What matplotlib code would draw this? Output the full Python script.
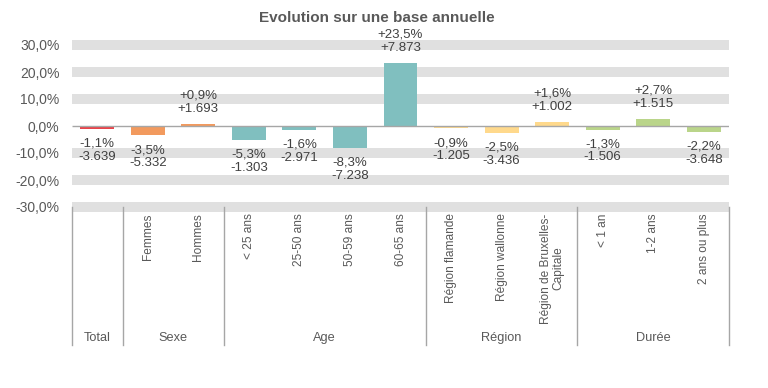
import numpy as np
import matplotlib.pyplot as plt

plt.rcParams['font.family'] = ['Liberation Sans', 'DejaVu Sans']

categories = ["", "Femmes", "Hommes", "< 25 ans", "25-50 ans", "50-59 ans", "60-65 ans",
              "Région flamande", "Région wallonne", "Région de Bruxelles-\nCapitale",
              "< 1 an", "1-2 ans", "2 ans ou plus"]
pct = [-1.1, -3.5, 0.9, -5.3, -1.6, -8.3, 23.5, -0.9, -2.5, 1.6, -1.3, 2.7, -2.2]
counts = [-3639, -5332, 1693, -1303, -2971, -7238, 7873, -1205, -3436, 1002, -1506, 1515, -3648]
groups = ["Total", "Sexe", "Age", "Région", "Durée"]
group_sizes = [1, 2, 4, 3, 3]
group_colors = ["#E8434A", "#F29A5E", "#80BFBF", "#FFD98C", "#BAD58A"]
yticks = [-30, -20, -10, 0, 10, 20, 30]

txt = "#595959"
sep = "#A6A6A6"

def fmt_pct(v):
    return f"{v:+.1f}%".replace(".", ",")

def fmt_num(v):
    s = f"{abs(v):,}".replace(",", ".")
    return ("+" if v > 0 else "-") + s

colors = []
for c, n in zip(group_colors, group_sizes):
    colors += [c] * n

fig = plt.figure(figsize=(7.68, 3.88), dpi=100)
ax = fig.add_axes([72 / 768, 1 - 207 / 388, (729 - 72) / 768, 162 / 388])
x = np.arange(len(categories))
ax.set_xlim(-0.5, len(categories) - 0.5)
ax.set_ylim(-30, 30)

# grid bands
for t in yticks:
    if t != 0:
        ax.axhline(t, color="#E0E0E0", lw=7.2, zorder=0, clip_on=False, solid_capstyle="butt")
ax.axhline(0, color=sep, lw=1, zorder=3, solid_capstyle="butt")

ax.bar(x, pct, width=0.67, color=colors, zorder=2)

# value labels
for xi, p, n in zip(x, pct, counts):
    if p >= 0:
        lines = [(fmt_num(n), 10.5), (fmt_pct(p), 20)]
    else:
        lines = [(fmt_pct(p), -10.5), (fmt_num(n), -20)]
    for s, off in lines:
        ax.annotate(s, (xi, p), xytext=(0, off), textcoords="offset points",
                    ha="center", va="center", fontsize=9.5, color="#404040")

ax.set_yticks(yticks)
ax.set_yticklabels([f"{t:.1f}%".replace(".", ",") for t in yticks], fontsize=10, color=txt)
ax.tick_params(axis="y", length=0, pad=9)
ax.set_xticks([])
for s in ax.spines.values():
    s.set_visible(False)

# category labels (rotated) and group labels below the axes
trans = ax.get_xaxis_transform()
for xi, c in zip(x, categories):
    ax.text(xi, -0.04, c, rotation=90, ha="center", va="top", fontsize=8.6,
            color=txt, transform=trans, multialignment="center", linespacing=1.1)

bounds = np.concatenate([[0], np.cumsum(group_sizes)]) - 0.5
for b in bounds:
    ax.plot([b, b], [0, -(345 - 207) / 162], color=sep, lw=1, transform=trans, clip_on=False)
for g, lo, hi in zip(groups, bounds[:-1], bounds[1:]):
    ax.text((lo + hi) / 2, -(338 - 207) / 162, g, ha="center", va="center",
            fontsize=9.2, color=txt, transform=trans)

fig.text(377 / 768, 1 - 18 / 388, "Evolution sur une base annuelle", ha="center", va="center",
         fontsize=11, fontweight="bold", color=txt)

fig.savefig("out.png", dpi=100)
